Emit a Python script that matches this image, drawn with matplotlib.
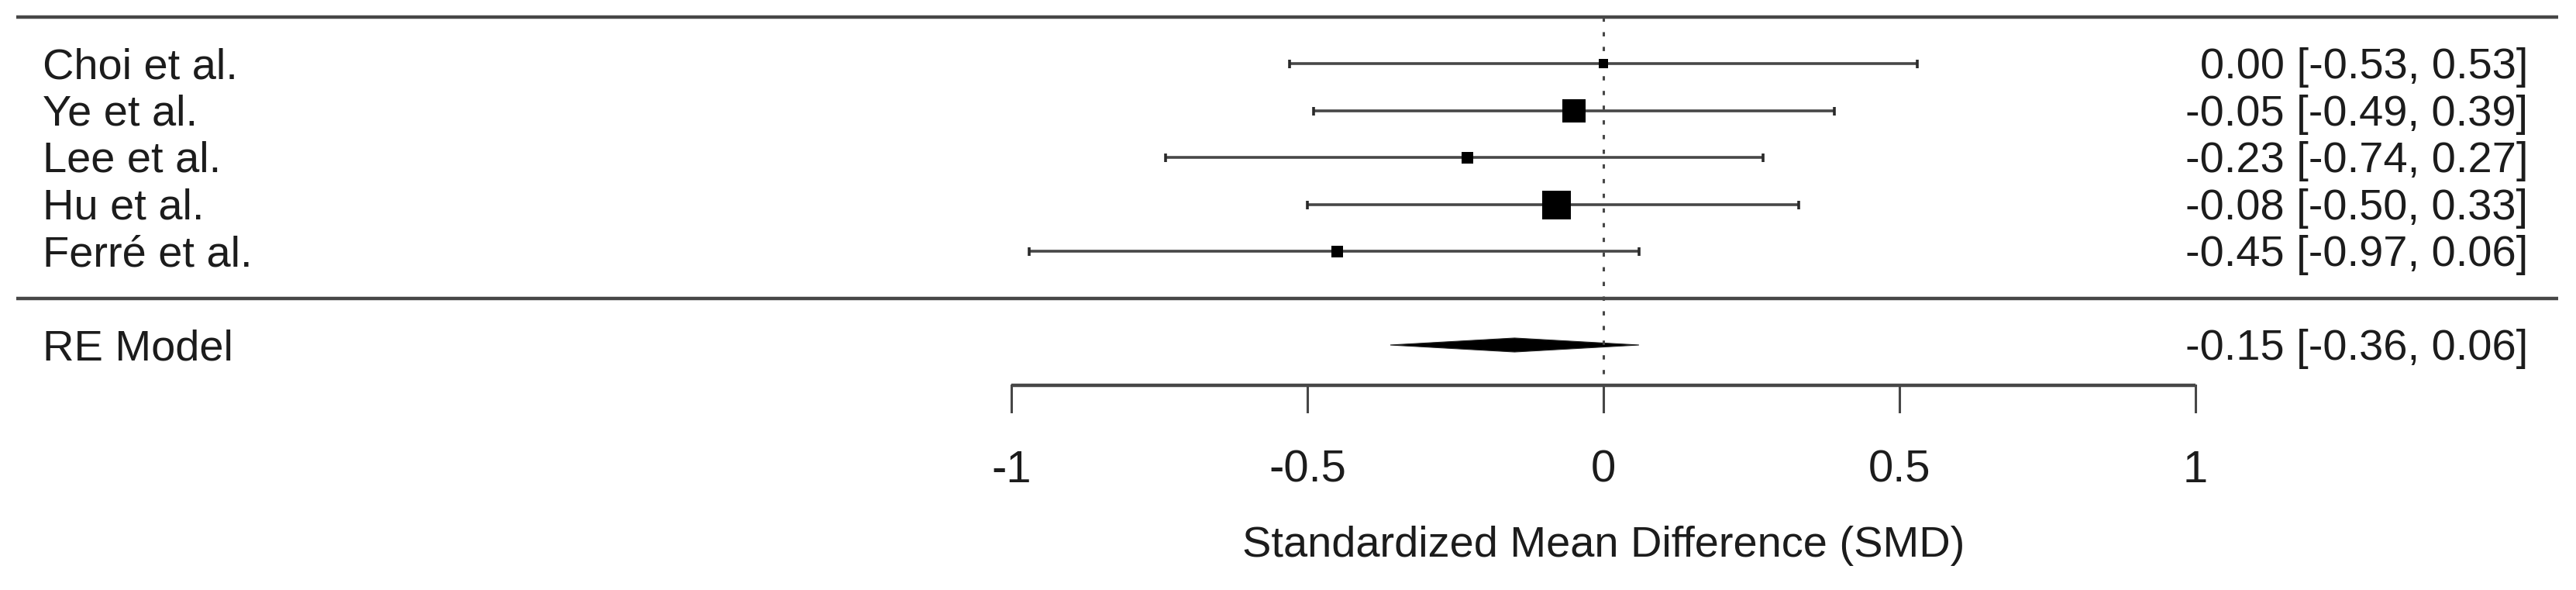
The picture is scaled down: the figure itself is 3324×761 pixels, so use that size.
import matplotlib
matplotlib.use('Agg')
import matplotlib.pyplot as plt

# study rows (top to bottom)
studies = ['Choi et al.', 'Ye et al.', 'Lee et al.', 'Hu et al.', 'Ferré et al.']
est = [0.00, -0.05, -0.23, -0.08, -0.45]
ci_lo = [-0.53, -0.49, -0.74, -0.50, -0.97]
ci_hi = [0.53, 0.39, 0.27, 0.33, 0.06]
box_px = [12, 30, 15, 37, 15]      # square side in pixels (relative weight)

# random-effects summary
re_label = 'RE Model'
re_est, re_lo, re_hi = -0.15, -0.36, 0.06

xticks = [-1, -0.5, 0, 0.5, 1]
xtick_labels = ['-1', '-0.5', '0', '0.5', '1']
xlabel = 'Standardized Mean Difference (SMD)'

W, H, DPI = 3324, 761, 100
PX_PER_UNIT = 764.0      # x pixels per SMD unit
X0_PX = 2069.0           # pixel column of SMD = 0
ROW_PX = 60.5            # pixels per row
TOP_ROW_PX = 82.0        # pixel row of the first study

FS = 56 * 72 / DPI       # 56 px text
INK = '#1c1c1c'
LINE = '#474747'

k = len(studies)
rows = list(range(k, 0, -1))
re_row = -1

fig = plt.figure(figsize=(W / DPI, H / DPI), dpi=DPI)
ax = fig.add_axes([0, 0, 1, 1])
ax.set_xlim(-X0_PX / PX_PER_UNIT, (W - X0_PX) / PX_PER_UNIT)
ax.set_ylim(k - (H - TOP_ROW_PX) / ROW_PX, k + TOP_ROW_PX / ROW_PX)
ax.axis('off')


def px_x(p):
    return (p - X0_PX) / PX_PER_UNIT


x_left, x_right = px_x(21), px_x(3301)
x_text_l, x_text_r = px_x(55), px_x(3262)
base_off = 19 / ROW_PX   # cap centre -> baseline
axis_row = re_row - 52 / ROW_PX
tick_len = 34 / ROW_PX

# horizontal rules
ax.plot([x_left, x_right], [k + 1, k + 1], color=LINE, lw=3.2, solid_capstyle='butt')
ax.plot([x_left, x_right], [0, 0], color=LINE, lw=3.2, solid_capstyle='butt')

# reference line at 0
ax.plot([0, 0], [k + 1, axis_row], color=LINE, lw=2.2, ls=(0, (1.8, 4.4)))

# study CIs and squares
for r, e, lo, hi, s in zip(rows, est, ci_lo, ci_hi, box_px):
    ax.plot([lo, hi], [r, r], color=LINE, lw=2.6, solid_capstyle='butt')
    ax.plot([lo, hi], [r, r], ls='none', marker='|', ms=11 * 72 / DPI,
            mew=2.6, color='#2a2a2a')
    ax.plot([e], [r], marker='s', ms=s * 72 / DPI, color='black', mew=0)

# summary diamond
dh = 9 / ROW_PX
ax.fill([re_lo, re_est, re_hi, re_est], [re_row, re_row + dh, re_row, re_row - dh],
        color='black', lw=0.8, ec='#222222')

# labels
font = dict(family=['Liberation Sans', 'Arial', 'DejaVu Sans'], fontsize=FS, color=INK)
for r, name, e, lo, hi in zip(rows, studies, est, ci_lo, ci_hi):
    ax.text(x_text_l, r - base_off, name, ha='left', va='baseline', **font)
    ax.text(x_text_r, r - base_off, f'{e:.2f} [{lo:.2f}, {hi:.2f}]',
            ha='right', va='baseline', **font)
ax.text(x_text_l, re_row - base_off, re_label, ha='left', va='baseline', **font)
ax.text(x_text_r, re_row - base_off, f'{re_est:.2f} [{re_lo:.2f}, {re_hi:.2f}]',
        ha='right', va='baseline', **font)

# x axis
ax.plot([xticks[0], xticks[-1]], [axis_row, axis_row], color=LINE, lw=3.2,
        solid_capstyle='butt')
for t, lab in zip(xticks, xtick_labels):
    ax.plot([t, t], [axis_row, axis_row - tick_len], color=LINE, lw=2.2)
    ax.text(t, k - (622 - TOP_ROW_PX) / ROW_PX, lab, ha='center', va='baseline',
            **{**font, 'fontsize': 58 * 72 / DPI})
ax.text(0, k - (718 - TOP_ROW_PX) / ROW_PX, xlabel, ha='center', va='baseline', **font)

fig.savefig('out.png', dpi=DPI, facecolor='white')
